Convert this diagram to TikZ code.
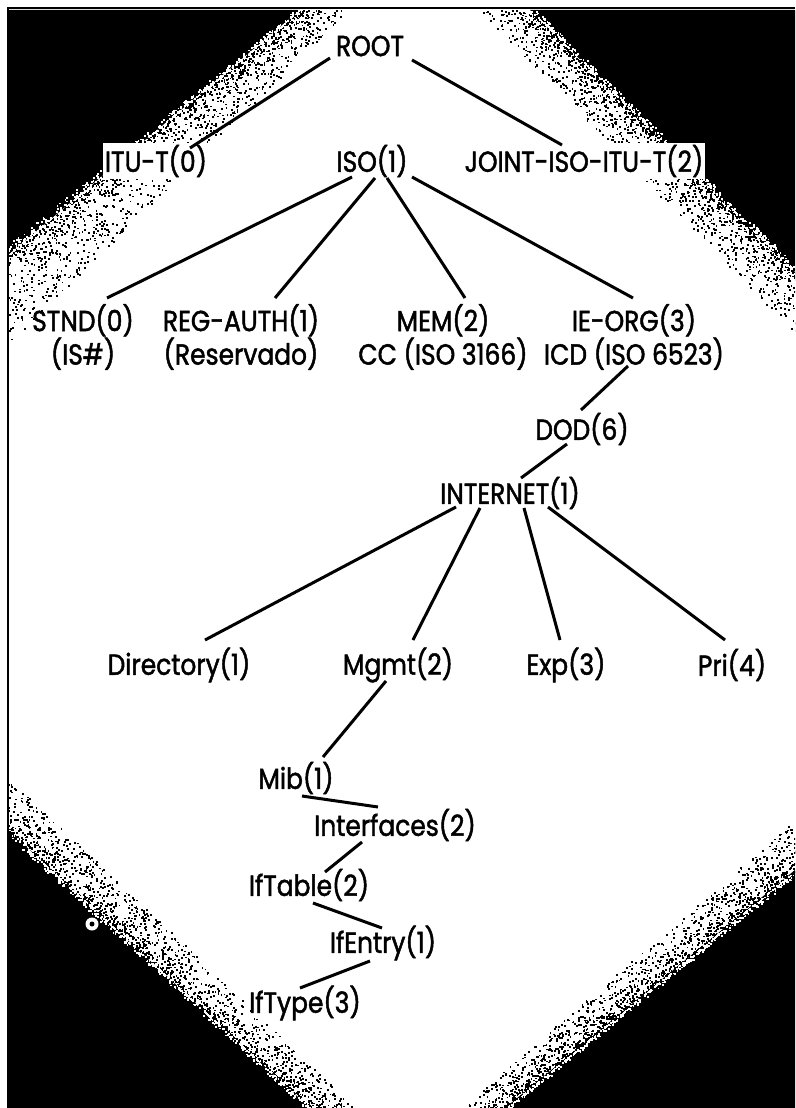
\documentclass[tikz,border=0pt]{standalone}
\usepackage{fontspec}
\setmainfont{Poppins}[FakeStretch=0.86,FakeBold=1.6]
\usetikzlibrary{calc}

% Speckled band along a diagonal edge: core segment (#1,#2)-(#3,#4),
% outer segment (#5,#6)-(#7,#8), #9 specks; density set by \gspread.
\def\gspread{rnd^2}
\newcommand\grainband[9]{%
  \foreach \i in {1,...,#9}{%
    \pgfmathsetmacro\gt{rnd}%
    \pgfmathsetmacro\gs{\gspread}%
    \pgfmathsetmacro\gx{(1-\gt)*#1+\gt*#3+\gs*((1-\gt)*(#5-#1)+\gt*(#7-#3))}%
    \pgfmathsetmacro\gy{(1-\gt)*#2+\gt*#4+\gs*((1-\gt)*(#6-#2)+\gt*(#8-#4))}%
    \fill (\gx,\gy) rectangle ++(1.8,1.8);
  }}

\begin{document}
\begin{tikzpicture}[x=1pt,y=-1pt,
  lbl/.style={inner sep=0pt, font=\fontsize{29}{30}\selectfont, align=center},
  halo/.style={fill=white, inner sep=2pt},
  edge/.style={line width=3pt, line cap=butt}]
\useasboundingbox (0,0) rectangle (795,1108);
\fill[white] (0,0) rectangle (795,1108);

% dark corner wedges with speckled edges
\begin{scope}
\clip (8,8) rectangle (795,1108);
\pgfmathsetseed{1234}
\fill[black] (8,10) -- (300,10) -- (8,255) -- cycle;
\fill[black] (530,10) -- (795,10) -- (795,272) -- cycle;
\fill[black] (8,830) -- (310,1108) -- (8,1108) -- cycle;
\fill[black] (795,870) -- (505,1108) -- (795,1108) -- cycle;
\def\gspread{rnd^2}
\grainband{300}{10}{8}{255}{348}{10}{8}{345}{1600}
\grainband{530}{10}{795}{272}{480}{10}{795}{335}{1600}
\grainband{8}{830}{310}{1108}{8}{775}{355}{1108}{1500}
\grainband{795}{870}{505}{1108}{795}{820}{460}{1108}{1500}
\begin{scope}[white]
\def\gspread{-0.12*rnd^2}
\grainband{300}{10}{8}{255}{348}{10}{8}{345}{450}
\grainband{530}{10}{795}{272}{480}{10}{795}{335}{450}
\grainband{8}{830}{310}{1108}{8}{775}{355}{1108}{400}
\grainband{795}{870}{505}{1108}{795}{820}{460}{1108}{400}
\end{scope}
\fill[white] (92,924) circle (6.5);
\fill[black] (92,924) circle (2.5);
\end{scope}

% frame
\draw[line width=1.6pt] (8,1108) -- (8,8) -- (795,8);

% tree labels
\node[lbl] (root) at (370,46) {ROOT};
\node[lbl,halo] (itu) at (156,161) {ITU-T(0)};
\node[lbl] (iso) at (372,161) {ISO(1)};
\node[lbl,halo] (joint) at (584,161) {JOINT-ISO-ITU-T(2)};
\node[lbl] (stnd) at (83,337) {STND(0)\\(IS\#)};
\node[lbl] (reg) at (241,337) {REG-AUTH(1)\\(Reservado)};
\node[lbl] (mem) at (443,337) {MEM(2)\\CC (ISO 3166)};
\node[lbl] (ieorg) at (634,337) {IE-ORG(3)\\ICD (ISO 6523)};
\node[lbl] (dod) at (582,429) {DOD(6)};
\node[lbl] (inet) at (510,493) {INTERNET(1)};
\node[lbl] (dir) at (179,665) {Directory(1)};
\node[lbl] (mgmt) at (398,665) {Mgmt(2)};
\node[lbl] (exp) at (566,665) {Exp(3)};
\node[lbl] (pri) at (732,665) {Pri(4)};
\node[lbl] (mib) at (296,778) {Mib(1)};
\node[lbl] (intf) at (395,825) {Interfaces(2)};
\node[lbl] (iftable) at (309,885) {IfTable(2)};
\node[lbl] (ifentry) at (383,943) {IfEntry(1)};
\node[lbl] (iftype) at (305,1003) {IfType(3)};

% connectors
\draw[edge] ($(root)+(-40,12)$) -- ($(itu)+(34,-13)$);
\draw[edge] ($(root)+(42,14)$) -- ($(joint)+(-22,-16)$);
\draw[edge] ($(iso)+(-20,16)$) -- ($(stnd)+(24,-39)$);
\draw[edge] ($(iso)+(3,17)$) -- ($(reg)+(34,-39)$);
\draw[edge] ($(iso)+(15,17)$) -- ($(mem)+(22,-39)$);
\draw[edge] ($(iso)+(40,16)$) -- ($(ieorg)+(-1,-39)$);
\draw[edge] ($(ieorg)+(-6,29)$) -- ($(dod)+(-1,-19)$);
\draw[edge] ($(dod)+(-15,15)$) -- ($(inet)+(11,-15)$);
\draw[edge] ($(inet)+(-54,14)$) -- ($(dir)+(26,-25)$);
\draw[edge] ($(inet)+(-30,15)$) -- ($(mgmt)+(15,-25)$);
\draw[edge] ($(inet)+(14,15)$) -- ($(exp)+(-6,-25)$);
\draw[edge] ($(inet)+(38,14)$) -- ($(pri)+(-7,-25)$);
\draw[edge] ($(mgmt)+(-12,16)$) -- ($(mib)+(27,-21)$);
\draw[edge] ($(mib)+(6,18)$) -- ($(intf)+(-17,-18)$);
\draw[edge] ($(intf)+(-33,17)$) -- ($(iftable)+(16,-13)$);
\draw[edge] ($(iftable)+(4,18)$) -- ($(ifentry)+(-1,-15)$);
\draw[edge] ($(ifentry)+(-13,18)$) -- ($(iftype)+(-5,-15)$);
\end{tikzpicture}
\end{document}
